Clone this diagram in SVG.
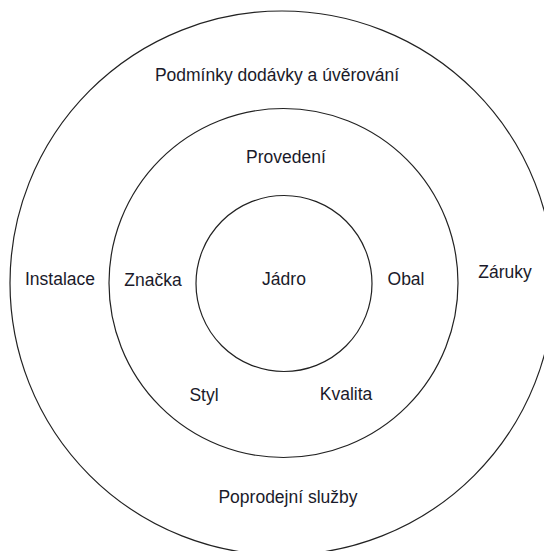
<svg xmlns="http://www.w3.org/2000/svg" width="544" height="551" viewBox="0 0 544 551">
<style>
.ring{fill:none;stroke:#222;stroke-width:1.2}
.t{font-family:"Liberation Sans",Arial,sans-serif;font-size:17.5px;fill:#1a1a2a;text-anchor:middle}
</style>
<rect width="544" height="551" fill="#fff"/>
<g id="outer">
<circle class="ring" cx="282" cy="283" r="272"/>
<text class="t" x="277" y="81">Podmínky dodávky a úvěrování</text>
<text class="t" x="60" y="285">Instalace</text>
<text class="t" x="505" y="278">Záruky</text>
<text class="t" x="288" y="503">Poprodejní služby</text>
</g>
<g id="middle">
<circle class="ring" cx="283.5" cy="283" r="174.5"/>
<text class="t" x="286" y="163">Provedení</text>
<text class="t" x="153" y="286">Značka</text>
<text class="t" x="406" y="285">Obal</text>
<text class="t" x="204" y="401">Styl</text>
<text class="t" x="346" y="400">Kvalita</text>
</g>
<g id="core">
<circle class="ring" cx="284" cy="283.5" r="88"/>
<text class="t" x="284" y="285">Jádro</text>
</g>
<g id="connectors"/>
</svg>
